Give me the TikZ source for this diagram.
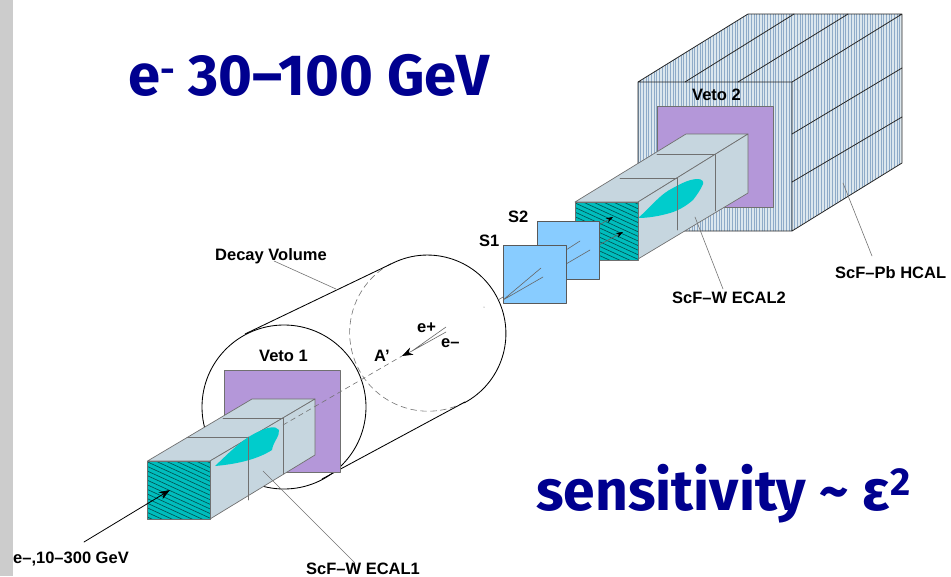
\documentclass[tikz,border=0pt]{standalone}
\usepackage{fontspec}
\setmainfont{Liberation Sans}
\newfontfamily\titlefont{Fira Sans}
\usetikzlibrary{arrows.meta}
\definecolor{boxgray}{HTML}{C6D6DF}
\definecolor{vetopurple}{HTML}{B497D9}
\definecolor{ecalteal}{HTML}{00BDBD}
\definecolor{blobteal}{HTML}{00CCCC}
\definecolor{scintblue}{HTML}{88CCFF}
\definecolor{titleblue}{HTML}{00008F}
\definecolor{edgegray}{HTML}{707070}
\definecolor{hcalpale}{HTML}{DCE7EE}
\definecolor{hcalline}{HTML}{8FABC8}
\tikzset{
	lbl/.style={anchor=base west,inner sep=0pt,font=\fontsize{16.5}{18}\selectfont\bfseries},
	bigtitle/.style={anchor=base west,inner sep=0pt,text=titleblue,font=\titlefont\fontsize{58}{60}\selectfont\bfseries},
	boxface/.style={fill=boxgray,draw=edgegray,line width=0.7pt},
	leader/.style={draw=black!55,line width=0.6pt},
	track/.style={draw=black!60,line width=0.6pt},
	cyl/.style={line width=0.85pt},
	beam/.style={draw=black!55,line width=0.6pt,dash pattern=on 5pt off 4pt},
}
\newcommand{\tealface}[2]{% front face of a calorimeter, upper left corner
	\fill[ecalteal] (#1,#2) rectangle ++(63,58);
	\begin{scope}
		\clip (#1,#2) rectangle ++(63,58);
		\foreach \k in {-12,...,12}\draw[black!55!ecalteal,line width=0.65pt] (#1-2,#2+4.6*\k)--++(70,32);
	\end{scope}
	\draw[edgegray,line width=0.7pt] (#1,#2) rectangle ++(63,58);
}
\begin{document}
\begin{tikzpicture}[x=1pt,y=-1pt,line join=round,line cap=round,>={Stealth[length=11pt,width=8pt,color=black]}]
	\useasboundingbox (0,0) rectangle (951,576);
	\fill[black!20] (0,0) rectangle (13,576);
	% decay volume
	\draw[beam,dash pattern=on 6pt off 4pt] (465,402) arc[start angle=62,end angle=244,radius=78.5];
	\draw[cyl] (393,263) arc[start angle=-116,end angle=62,radius=78.5];
	\draw[cyl] (245,334)--(393,263);
	\draw[cyl] (322,479)--(465,402);
	\coordinate (decaytip) at (336,289);
	\node[lbl] (decay) at (215,260) {Decay Volume};
	\draw[leader] (274,261)--(decaytip);
	% veto 1 and ECAL1
	\draw[cyl] (284,407) circle[radius=82];
	\fill[vetopurple] (224,370) rectangle (340,472);
	\draw[edgegray,line width=0.7pt] (224,370) rectangle (340,472);
	\node[lbl] (vetoone) at (259,361) {Veto 1};
	\draw[boxface] (147.5,461)--(252,399)--(315,399)--(210,461)--cycle;
	\draw[boxface] (210,461)--(315,399)--(315,455)--(210,519)--cycle;
	\draw[edgegray,line width=0.7pt] (187,437)--(248,437)--(248,500) (223,418)--(283,418)--(283,474);
	\fill[blobteal] (215,466) .. controls (230,452) and (243,438) .. (260,431) .. controls (266,428) and (276,425) .. (279,430) .. controls (280,436) and (273,442) .. (272,450) .. controls (258,459) and (238,464) .. (215,466);
	\draw[edgegray,line width=0.7pt] (248,437)--(248,461) (283,418)--(283,428);
	\tealface{147.5}{461}
	% beam line
	\draw[beam] (283,425)--(402,356);
	\coordinate (vertex) at (412,351);
	\coordinate (aprime) at (402,356);
	\draw[->,track] (vertex)--(aprime);
	\draw[track] (vertex)--(446,327) (vertex)--(446,332);
	\node[lbl] (aprimelbl) at (374,361) {A'};
	\node[lbl] (eplus) at (417,332) {e+};
	\node[lbl] (eminus) at (441,347) {e--};
	\fill[black!60] (484,307) circle[radius=0.5];
	% HCAL
	\begin{scope}
		\clip (638,82)--(748,14)--(902,14)--(902,163)--(792,231)--(638,231)--cycle;
		\fill[hcalpale] (638,14) rectangle (902,231);
		\foreach \x in {638,640.7,...,903}\draw[draw=hcalline,line width=1pt] (\x,14)--(\x,231);
	\end{scope}
	\draw[black!85,line width=0.8pt] (638,231)--(638,82)--(748,14)--(902,14)--(902,163)--(792,231)--(638,231) (638,82)--(792,82)--(902,14) (792,82)--(792,231);
	\draw[black!85,line width=0.8pt] (685,82)--(794,14) (738,82)--(848,14) (792,134)--(902,68) (792,182)--(902,117);
	\fill[vetopurple] (657,106) rectangle (773,207);
	\draw[edgegray,line width=0.7pt] (657,106) rectangle (773,207);
	\node[lbl] (vetotwo) at (692,100) {Veto 2};
	% ECAL2
	\draw[boxface] (575,202)--(686,134)--(748,134)--(638,202)--cycle;
	\draw[boxface] (638,202)--(748,134)--(748,193)--(638,259)--cycle;
	\draw[edgegray,line width=0.7pt] (620,178)--(677,178)--(677,230) (657,154)--(715,154)--(715,211);
	\fill[blobteal] (638,218) .. controls (650,208) and (660,194) .. (673,188) .. controls (682,183) and (690,179) .. (698,179) .. controls (702,179) and (704,182) .. (703,184) .. controls (701,189) and (697,195) .. (693,200) .. controls (685,207) and (677,211) .. (670,213) .. controls (660,216) and (648,218) .. (638,218);
	\draw[edgegray,line width=0.7pt] (677,178)--(677,212);
	\tealface{575}{202}
	% scintillators
	\draw[->,track,>={Stealth[length=7pt,width=5pt,color=black]}] (599,225)--(613,217);
	\draw[->,track,>={Stealth[length=7pt,width=5pt,color=black]}] (599,245)--(623,232);
	\draw[fill=scintblue,draw=black!65,line width=0.9pt] (537,221) rectangle (599,279);
	\draw[track] (566,250)--(580,241) (566,264)--(590,250);
	\draw[fill=scintblue,draw=black!65,line width=0.9pt] (503,245) rectangle (566,303);
	\draw[track] (498,300)--(503,297) (503,300)--(541,268) (503,300)--(543,277);
	\node[lbl] (sone) at (479,246) {S1};
	\node[lbl] (stwo) at (508,222) {S2};
	% incoming beam
	\node[lbl] (beamlbl) at (13,563) {e--,10--300 GeV};
	\coordinate (beamtail) at (84,542);
	\coordinate (beamhead) at (170,490);
	\draw[->,draw=black,line width=0.8pt] (beamtail)--(beamhead);
	% labels with leaders
	\node[lbl] (ecalonelbl) at (306,574) {ScF--W ECAL1};
	\node[lbl] (ecaltwolbl) at (672,303) {ScF--W ECAL2};
	\node[lbl] (hcallbl) at (835,278) {ScF--Pb HCAL};
	\draw[leader] (263,471)--(355,563);
	\draw[leader] (695,217)--(723,289);
	\draw[leader] (843,183)--(872,256);
	% titles
	\node[bigtitle] (energy) at (128,95) {e\raisebox{0.4ex}{\fontsize{36}{36}\selectfont-} 30–100 GeV};
	\node[bigtitle,font=\titlefont\fontsize{57}{60}\selectfont\bfseries] (sens) at (536,510) {sensitivity \textasciitilde{} ε\raisebox{15pt}{\fontsize{39}{39}\selectfont 2}};
\end{tikzpicture}
\end{document}
